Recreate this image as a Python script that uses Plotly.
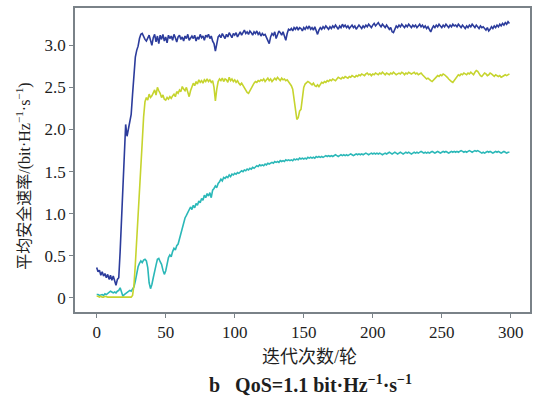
import plotly.graph_objects as go

iterations = list(range(300))

blue_rate = [
    0.36, 0.31, 0.33, 0.27, 0.31, 0.26, 0.29, 0.24, 0.28, 0.22,
    0.27, 0.21, 0.26, 0.19, 0.15, 0.22, 0.24, 0.55, 0.95, 1.45,
    1.78, 2.06, 1.92, 2.00, 2.10, 2.18, 2.42, 2.68, 2.86, 2.94,
    2.99, 3.08, 3.13, 3.14, 3.10, 3.07, 3.05, 3.08, 3.12, 3.06,
    3.00, 3.09, 3.13, 3.04, 3.11, 3.02, 3.12, 3.07, 3.13, 3.05,
    3.10, 3.03, 3.12, 3.08, 3.11, 3.06, 3.13, 3.09, 3.04, 3.10,
    3.12, 3.07, 3.10, 3.05, 3.11, 3.08, 3.13, 3.06, 3.09, 3.11,
    3.08, 3.12, 3.05, 3.10, 3.07, 3.13, 3.09, 3.11, 3.06, 3.12,
    3.10, 3.13, 3.08, 3.11, 3.05, 3.02, 2.93, 3.04, 3.10, 3.12,
    3.09, 3.14, 3.11, 3.08, 3.13, 3.10, 3.15, 3.12, 3.09, 3.14,
    3.12, 3.15, 3.10, 3.13, 3.16, 3.12, 3.15, 3.18, 3.14, 3.16,
    3.13, 3.17, 3.15, 3.12, 3.16, 3.14, 3.17, 3.13, 3.15, 3.11,
    3.14, 3.12, 3.13, 3.09, 3.05, 3.02, 3.10, 3.14, 3.12, 3.16,
    3.08, 3.13, 3.17, 3.15, 3.12, 3.16, 3.10, 3.06, 3.14, 3.19,
    3.18, 3.20, 3.17, 3.21, 3.19, 3.22, 3.18, 3.21, 3.20, 3.17,
    3.21, 3.19, 3.22, 3.20, 3.23, 3.19, 3.21, 3.18, 3.22, 3.16,
    3.13, 3.18, 3.21, 3.19, 3.22, 3.20, 3.23, 3.21, 3.19, 3.22,
    3.20, 3.23, 3.21, 3.24, 3.22, 3.19, 3.23, 3.21, 3.25, 3.22,
    3.24, 3.21, 3.23, 3.20, 3.22, 3.24, 3.21, 3.23, 3.19, 3.22,
    3.24, 3.22, 3.20, 3.23, 3.21, 3.24, 3.22, 3.25, 3.23, 3.21,
    3.24, 3.26, 3.23, 3.25, 3.27, 3.24, 3.22, 3.25, 3.23, 3.21,
    3.24, 3.22, 3.19, 3.21, 3.16, 3.15, 3.20, 3.23, 3.21, 3.24,
    3.22, 3.25, 3.23, 3.21, 3.24, 3.22, 3.25, 3.23, 3.21, 3.24,
    3.22, 3.24, 3.21, 3.23, 3.25, 3.22, 3.24, 3.21, 3.23, 3.20,
    3.22, 3.19, 3.16, 3.20, 3.23, 3.21, 3.24, 3.22, 3.25, 3.23,
    3.21, 3.24, 3.22, 3.25, 3.23, 3.21, 3.24, 3.22, 3.25, 3.23,
    3.24, 3.22, 3.25, 3.23, 3.21, 3.24, 3.22, 3.20, 3.23, 3.21,
    3.24, 3.22, 3.25, 3.23, 3.21, 3.24, 3.22, 3.20, 3.23, 3.21,
    3.22, 3.20, 3.18, 3.21, 3.17, 3.19, 3.22, 3.20, 3.23, 3.21,
    3.24, 3.22, 3.25, 3.23, 3.26, 3.24, 3.27, 3.25, 3.28, 3.26,
]

yellow_rate = [
    0.02, 0.02, 0.01, 0.02, 0.01, 0.01, 0.02, 0.01, 0.01, 0.01,
    0.01, 0.01, 0.01, 0.01, 0.01, 0.01, 0.01, 0.01, 0.01, 0.01,
    0.01, 0.01, 0.01, 0.01, 0.01, 0.01, 0.03, 0.15, 0.40, 0.68,
    0.92, 1.15, 1.50, 1.85, 2.15, 2.33, 2.38, 2.35, 2.42, 2.38,
    2.40, 2.44, 2.47, 2.41, 2.50, 2.46, 2.43, 2.38, 2.41, 2.36,
    2.35, 2.38, 2.36, 2.39, 2.37, 2.40, 2.42, 2.39, 2.45, 2.43,
    2.47, 2.45, 2.51, 2.48, 2.46, 2.50, 2.44, 2.39, 2.46, 2.52,
    2.55, 2.52, 2.57, 2.54, 2.59, 2.56, 2.58, 2.55, 2.59, 2.57,
    2.60, 2.57, 2.59, 2.56, 2.58, 2.50, 2.34, 2.48, 2.57, 2.60,
    2.58, 2.61, 2.57, 2.60, 2.59, 2.56, 2.62, 2.58, 2.60, 2.57,
    2.59, 2.56, 2.58, 2.55, 2.53, 2.55, 2.52, 2.49, 2.46, 2.44,
    2.43, 2.46, 2.50, 2.53, 2.55, 2.57, 2.56, 2.58, 2.57, 2.59,
    2.58, 2.60, 2.57, 2.59, 2.61, 2.58, 2.60, 2.57, 2.59, 2.61,
    2.59, 2.62, 2.60, 2.58, 2.61, 2.59, 2.60, 2.58, 2.59, 2.57,
    2.55, 2.52, 2.48, 2.35, 2.18, 2.12, 2.14, 2.22, 2.24, 2.40,
    2.50, 2.54, 2.55, 2.57, 2.56, 2.54, 2.53, 2.55, 2.52, 2.51,
    2.53, 2.51, 2.54, 2.56, 2.55, 2.57, 2.56, 2.58, 2.57, 2.59,
    2.58, 2.60, 2.59, 2.58, 2.60, 2.62, 2.61, 2.60, 2.62, 2.61,
    2.63, 2.62, 2.61, 2.63, 2.62, 2.64, 2.63, 2.62, 2.64, 2.63,
    2.65, 2.64, 2.66, 2.65, 2.64, 2.66, 2.67, 2.65, 2.66, 2.64,
    2.66, 2.65, 2.67, 2.66, 2.65, 2.67, 2.66, 2.68, 2.66, 2.65,
    2.67, 2.66, 2.65, 2.67, 2.66, 2.68, 2.67, 2.65, 2.66, 2.67,
    2.66, 2.68, 2.67, 2.65, 2.67, 2.66, 2.68, 2.67, 2.66, 2.67,
    2.68, 2.66, 2.67, 2.65, 2.66, 2.67, 2.65, 2.63, 2.61, 2.60,
    2.61, 2.59, 2.58, 2.57, 2.59, 2.61, 2.62, 2.64, 2.63, 2.65,
    2.64, 2.66, 2.65, 2.64, 2.62, 2.60, 2.58, 2.57, 2.56, 2.58,
    2.60, 2.63, 2.65, 2.64, 2.66, 2.65, 2.67, 2.66, 2.65, 2.67,
    2.66, 2.68, 2.67, 2.65, 2.68, 2.70, 2.69, 2.66, 2.64, 2.63,
    2.65, 2.67, 2.66, 2.64, 2.65, 2.67, 2.66, 2.64, 2.63, 2.65,
    2.64, 2.63, 2.64, 2.62, 2.63, 2.64, 2.65, 2.64, 2.65, 2.66,
]

teal_rate = [
    0.04, 0.04, 0.03, 0.04, 0.04, 0.03, 0.05, 0.04, 0.05, 0.06,
    0.08, 0.07, 0.06, 0.07, 0.06, 0.08, 0.09, 0.12, 0.06, 0.02,
    0.04, 0.05, 0.06, 0.08, 0.09, 0.08, 0.11, 0.13, 0.20, 0.30,
    0.37, 0.41, 0.44, 0.42, 0.45, 0.46, 0.44, 0.36, 0.18, 0.11,
    0.16, 0.24, 0.30, 0.39, 0.46, 0.47, 0.43, 0.40, 0.33, 0.28,
    0.32, 0.42, 0.48, 0.51, 0.49, 0.55, 0.59, 0.57, 0.62, 0.64,
    0.70, 0.76, 0.83, 0.90, 0.95, 0.98, 1.02, 1.04, 1.08, 1.05,
    1.10, 1.07, 1.12, 1.10, 1.15, 1.13, 1.18, 1.16, 1.22, 1.19,
    1.24, 1.21, 1.25, 1.19, 1.28, 1.30, 1.33, 1.31, 1.36, 1.38,
    1.41, 1.39, 1.43, 1.42, 1.44, 1.43, 1.46, 1.44, 1.47, 1.46,
    1.48, 1.47, 1.49, 1.48, 1.50, 1.51, 1.50, 1.52, 1.51, 1.53,
    1.52, 1.54, 1.53, 1.55, 1.54, 1.55, 1.57, 1.56, 1.58, 1.57,
    1.58, 1.57, 1.59, 1.58, 1.60, 1.59, 1.60, 1.61, 1.60, 1.62,
    1.61, 1.62, 1.61, 1.63, 1.62, 1.63, 1.62, 1.64, 1.63, 1.64,
    1.63, 1.64, 1.63, 1.65, 1.64, 1.65, 1.64, 1.66, 1.65, 1.66,
    1.65, 1.66, 1.65, 1.67, 1.66, 1.67, 1.66, 1.67, 1.66, 1.68,
    1.67, 1.68, 1.67, 1.68, 1.67, 1.68, 1.69, 1.68, 1.69, 1.68,
    1.69, 1.68, 1.69, 1.70, 1.69, 1.68, 1.69, 1.70, 1.69, 1.70,
    1.69, 1.70, 1.69, 1.70, 1.71, 1.70, 1.69, 1.70, 1.71, 1.70,
    1.71, 1.70, 1.71, 1.70, 1.71, 1.72, 1.71, 1.70, 1.71, 1.72,
    1.71, 1.72, 1.71, 1.72, 1.71, 1.72, 1.71, 1.70, 1.71, 1.72,
    1.71, 1.72, 1.73, 1.72, 1.71, 1.72, 1.73, 1.72, 1.71, 1.72,
    1.73, 1.72, 1.71, 1.72, 1.73, 1.72, 1.73, 1.72, 1.71, 1.72,
    1.73, 1.72, 1.73, 1.72, 1.73, 1.74, 1.73, 1.72, 1.73, 1.72,
    1.73, 1.72, 1.73, 1.74, 1.73, 1.72, 1.73, 1.74, 1.73, 1.72,
    1.73, 1.74, 1.73, 1.74, 1.73, 1.72, 1.73, 1.74, 1.73, 1.74,
    1.73, 1.74, 1.73, 1.74, 1.75, 1.74, 1.73, 1.74, 1.73, 1.74,
    1.75, 1.74, 1.73, 1.74, 1.75, 1.74, 1.75, 1.74, 1.73, 1.72,
    1.73, 1.72, 1.73, 1.74, 1.73, 1.74, 1.73, 1.72, 1.73, 1.74,
    1.73, 1.74, 1.73, 1.72, 1.73, 1.74, 1.73, 1.72, 1.73, 1.73,
]

x_ticks = [0, 50, 100, 150, 200, 250, 300]
y_ticks = [0, 0.5, 1.0, 1.5, 2.0, 2.5, 3.0]
y_tick_labels = ["0", "0.5", "1.0", "1.5", "2.0", "2.5", "3.0"]

x_title = "迭代次数/轮"
y_title = "平均安全速率/(bit·Hz<sup>−1</sup>·s<sup>−1</sup>)"
caption = "<b>b&nbsp;&nbsp;&nbsp;QoS=1.1 bit·Hz<sup>−1</sup>·s<sup>−1</sup></b>"

font_family = "'Liberation Serif', 'Noto Sans CJK SC', serif"
axis_color = "#7a8288"
text_color = "#1e1e1e"

fig = go.Figure()
for ys, color in [(teal_rate, "#2bb8b8"), (yellow_rate, "#c6d42e"), (blue_rate, "#2c3c9c")]:
    fig.add_trace(go.Scatter(x=iterations, y=ys, mode="lines",
                             line=dict(color=color, width=1.6), showlegend=False))

fig.update_layout(
    width=534, height=396,
    margin=dict(l=75, r=2, t=8, b=84),
    paper_bgcolor="white", plot_bgcolor="white",
    font=dict(family=font_family, size=17, color=text_color),
    xaxis=dict(range=[-15.7, 313.9], tickvals=x_ticks, ticks="outside", ticklen=4,
               tickcolor=axis_color, showline=True, linecolor=axis_color, linewidth=1.5,
               mirror=True, showgrid=False, zeroline=False,
               tickfont=dict(family=font_family, size=17, color=text_color)),
    yaxis=dict(range=[-0.167, 3.443], tickvals=y_ticks, ticktext=y_tick_labels,
               ticks="outside", ticklen=4, tickcolor=axis_color, showline=True,
               linecolor=axis_color, linewidth=1.5, mirror=True, showgrid=False,
               zeroline=False, tickfont=dict(family=font_family, size=17, color=text_color)),
    annotations=[
        dict(text=x_title, xref="paper", yref="paper", x=0.515, y=-0.148,
             xanchor="center", yanchor="middle", showarrow=False,
             font=dict(family=font_family, size=18, color=text_color)),
        dict(text=caption, xref="paper", yref="paper", x=0.517, y=-0.237,
             xanchor="center", yanchor="middle", showarrow=False,
             font=dict(family=font_family, size=20, color=text_color)),
        dict(text=y_title, xref="paper", yref="paper", x=-0.112, y=0.445,
             xanchor="center", yanchor="middle", showarrow=False, textangle=-90,
             font=dict(family=font_family, size=16, color=text_color)),
    ],
)

fig.write_html("out.html", post_script="document.body.style.margin='0';",
               config={"displayModeBar": False})
